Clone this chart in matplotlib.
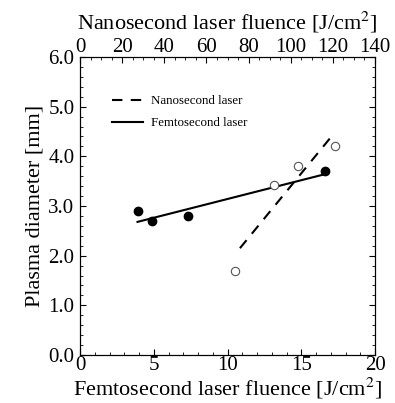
import matplotlib.pyplot as plt
from matplotlib.ticker import MultipleLocator

# femtosecond laser data (bottom axis)
femto_fluence = [3.9, 4.9, 7.3, 16.6]
femto_diam = [2.90, 2.70, 2.80, 3.70]
femto_fit_x = [3.9, 16.6]
femto_fit_y = [2.68, 3.64]

# nanosecond laser data (top axis)
nano_fluence = [73.4, 91.9, 103.5, 121.2]
nano_diam = [1.70, 3.42, 3.80, 4.21]
nano_fit_x = [75.9, 120.5]
nano_fit_y = [2.15, 4.46]

plt.rcParams['font.family'] = ['Liberation Serif', 'DejaVu Serif']
plt.rcParams['mathtext.fontset'] = 'stix'

fig = plt.figure(figsize=(3.95, 4.03), dpi=100)
ax = fig.add_axes([80 / 395, 48 / 403, 295 / 395, 298 / 403])
ax2 = ax.twiny()

ax.plot(femto_fit_x, femto_fit_y, color='black', lw=1.5, label='Femtosecond laser')
ax.plot(femto_fluence, femto_diam, 'o', color='black', ms=6)
ax2.plot(nano_fit_x, nano_fit_y, color='black', lw=1.5, ls=(0, (5, 4)), label='Nanosecond laser')
ax2.plot(nano_fluence, nano_diam, 'o', mfc='white', mec='#555555', mew=0.8, ms=6)

ax.set_xlim(0, 20)
ax.set_ylim(0, 6)
ax2.set_xlim(0, 140)

ax.xaxis.set_major_locator(MultipleLocator(5))
ax.xaxis.set_minor_locator(MultipleLocator(1))
ax.yaxis.set_major_locator(MultipleLocator(1))
ax.yaxis.set_minor_locator(MultipleLocator(0.2))
ax.yaxis.set_major_formatter(lambda v, p: f'{v:.1f}')
ax2.xaxis.set_major_locator(MultipleLocator(20))
ax2.xaxis.set_minor_locator(MultipleLocator(5))

ax.tick_params(which='both', direction='in', right=True, labelsize=15, pad=1)
ax.tick_params(axis='y', pad=4)
ax.tick_params(which='major', length=4)
ax.tick_params(which='minor', length=2)
ax2.tick_params(which='both', direction='in', labelsize=15, pad=0)
ax2.tick_params(which='major', length=4)
ax2.tick_params(which='minor', length=2)

ax.set_xlabel('Femtosecond laser fluence [J/cm$^2$]', fontsize=16, labelpad=0.5)
ax2.set_xlabel('Nanosecond laser fluence [J/cm$^2$]', fontsize=16, labelpad=6)
ax.set_ylabel('Plasma diameter [mm]', fontsize=16, labelpad=3)

h1, l1 = ax2.get_legend_handles_labels()
h2, l2 = ax.get_legend_handles_labels()
ax2.legend(h1 + h2, l1 + l2, loc='upper left', bbox_to_anchor=(0.07, 0.91),
           frameon=False, fontsize=9.3, handlelength=2.4, handletextpad=0.6,
           labelspacing=0.75)

fig.savefig('out.png', dpi=100)
